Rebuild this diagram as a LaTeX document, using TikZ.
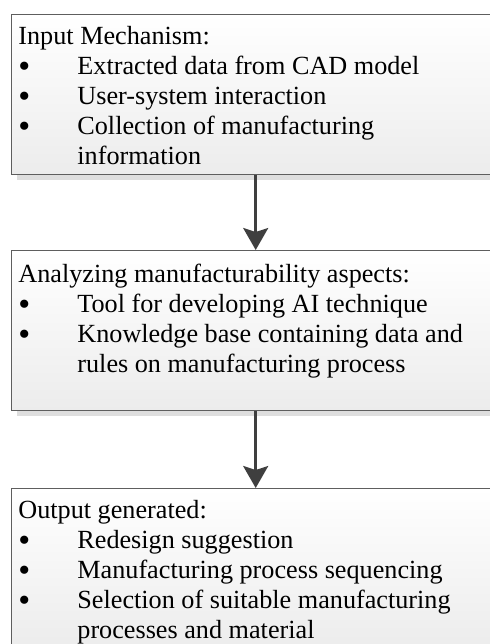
\documentclass[tikz,border=0pt]{standalone}
\usepackage{fontspec}
\setmainfont{Liberation Serif}
\usetikzlibrary{arrows.meta}
\usetikzlibrary{shadows}
\definecolor{boxline}{HTML}{5E5E5E}
\definecolor{boxbottom}{HTML}{ECECEC}
\definecolor{boxshadow}{HTML}{DEDEDE}
\definecolor{flowgray}{HTML}{3F3F3F}
\newcommand{\blt}{\makebox[29.5pt][l]{\raisebox{-1.6pt}{\scalebox{1.3}{\textbullet}}}}
\newcommand{\cnt}{\hspace*{29.5pt}}
\tikzset{
    stagebox/.style={
        draw=boxline, line width=0.7pt,
        top color=white, bottom color=boxbottom,
        drop shadow={shadow xshift=2.5pt, shadow yshift=-2.5pt, fill=boxshadow, opacity=1},
        rectangle, inner sep=0pt, anchor=north west,
        minimum width=244pt, minimum height=80pt
    },
    stagetext/.style={
        anchor=base west, inner sep=0pt,
        font=\fontsize{13.1pt}{15pt}\selectfont
    },
    flow/.style={
        draw=flowgray, line width=1.35pt,
        -{Stealth[length=11pt, width=12.5pt, inset=2pt]}
    },
}
\begin{document}
\begin{tikzpicture}[x=0.5pt,y=-0.5pt]
\useasboundingbox (0,0) rectangle (490,644);
\clip (0,0) rectangle (490,644);
% the three stages
\node[stagebox] (inp) at (11,14) {};
\node[stagebox] (ana) at (11,250) {};
\node[stagebox] (out) at (11,488) {};
\node[stagetext] (inptxt) at (18,44) {\parbox[t]{240pt}{\baselineskip=15pt
    Input Mechanism:\\
    \blt Extracted data from CAD model\\
    \blt User-system interaction\\
    \blt Collection of manufacturing\\
    \cnt information}};
\node[stagetext] (anatxt) at (18,282) {\parbox[t]{240pt}{\baselineskip=15pt
    Analyzing manufacturability aspects:\\
    \blt Tool for developing AI technique\\
    \blt Knowledge base containing data and\\
    \cnt rules on manufacturing process}};
\node[stagetext] (outtxt) at (18,518) {\parbox[t]{240pt}{\baselineskip=15pt
    Output generated:\\
    \blt Redesign suggestion\\
    \blt Manufacturing process sequencing\\
    \blt Selection of suitable manufacturing\\
    \cnt processes and material}};
% flow between stages
\draw[flow] (inp.south) -- (ana.north);
\draw[flow] (ana.south) -- (out.north);
%\draw[flow] (out.south) -- ++(0,40);
\end{tikzpicture}
\end{document}
